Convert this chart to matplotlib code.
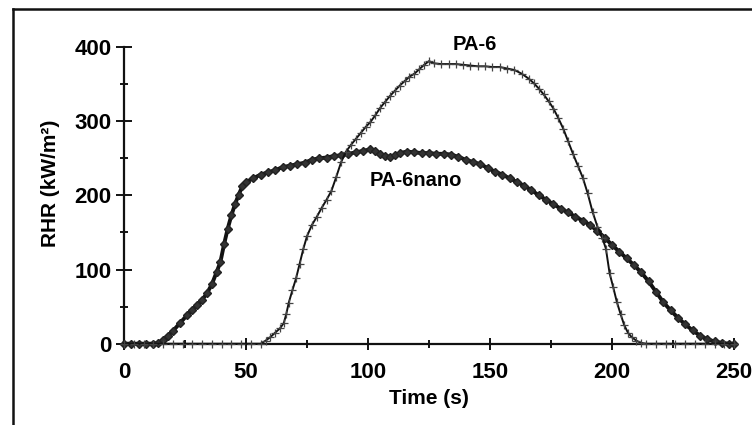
import matplotlib
matplotlib.use("Agg")
import matplotlib.pyplot as plt
from matplotlib.lines import Line2D
from matplotlib.ticker import MultipleLocator

plt.rcParams['font.family'] = ['Liberation Sans', 'DejaVu Sans']
plt.rcParams['font.weight'] = 'bold'
plt.rcParams['axes.labelweight'] = 'bold'

# PA-6 nanocomposite: time (s) and heat release rate (kW/m2)
nano_t = [0, 3, 6, 9, 12, 14, 16, 18, 20, 23, 26, 28, 30, 32, 34, 36, 38, 39.5,
          41, 42.5, 44, 45.5, 47, 48.5, 50, 53, 56, 59, 62, 65, 68, 71, 74, 77,
          80, 83, 86, 89, 92, 95, 98, 101, 103, 105, 107, 109, 111, 113, 116,
          119, 122, 125, 128, 131, 134, 137, 140, 143, 146, 149, 152, 155, 158,
          161, 164, 167, 170, 173, 176, 179, 182, 185, 188, 191, 194, 197, 200,
          203, 206, 209, 212, 215, 218, 221, 224, 227, 230, 233, 236, 239, 242,
          245, 248, 250]
nano_rhr = [0, 0, 0, 0, 0, 1, 5, 11, 17, 28, 39, 46, 52, 59, 68, 80, 97, 110,
            134, 155, 173, 188, 201, 212, 218, 223, 228, 231, 234, 238, 240, 242,
            244, 248, 250, 251, 253, 254, 256, 258, 260, 262, 260, 256, 253, 252,
            254, 257, 259, 258, 257, 257, 256, 256, 255, 252, 248, 245, 242, 237,
            232, 228, 223, 218, 213, 207, 200, 194, 188, 182, 177, 171, 166, 160,
            152, 143, 133, 124, 115, 106, 96, 84, 70, 56, 45, 35, 26, 18, 11, 6,
            3, 1, 0, 0]

# neat PA-6
pa6_t = [0, 4, 8, 12, 16, 20, 24, 28, 32, 36, 40, 44, 48, 52, 56, 58, 60, 62,
         64, 65.5, 66.5, 67.5, 69, 70.5, 72, 73.5, 75, 77, 79, 81, 83, 85, 87,
         89, 91, 93, 95, 97, 99, 101, 103, 105, 107, 109, 111, 113, 115, 117,
         119, 121, 123, 125, 127, 130, 133, 136, 139, 142, 145, 148, 151, 154,
         157, 160, 163, 166, 168, 170, 172, 174, 176, 178, 180, 182, 184, 186,
         188, 190, 192, 194, 196, 197.5, 199, 200.5, 202, 203.5, 205, 206.5,
         208, 210, 212, 214, 218, 222, 226, 230, 234, 238, 242, 246, 250]
pa6_rhr = [0, 0, 0, 0, 0, 0, 0, 0, 0, 0, 0, 0, 0, 0, 0, 4, 9, 15, 21, 28, 40,
           55, 72, 88, 108, 128, 145, 160, 171, 183, 194, 206, 225, 245, 259,
           268, 276, 284, 292, 299, 308, 318, 326, 334, 341, 348, 354, 360, 364,
           370, 376, 381, 378, 377, 377, 377, 376, 375, 374, 374, 373, 373, 371,
           369, 364, 357, 351, 344, 336, 327, 317, 304, 290, 273, 256, 240, 224,
           203, 178, 158, 143, 128, 95, 76, 56, 40, 25, 15, 9, 4, 1, 0, 0, 0, 0,
           0, 0, 0, 0, 0, 0]

fig = plt.figure(figsize=(7.52, 4.25), dpi=100)
ax = fig.add_axes([0.1649, 0.1913, 0.8112, 0.6981])

ax.plot(nano_t, nano_rhr, color='#111111', lw=2.8, marker='D', ms=4.5,
        mec='#222222', mfc='#333333', clip_on=False, zorder=3)
ax.plot(pa6_t, pa6_rhr, color='#111111', lw=1.4, marker='+', ms=6,
        mew=0.9, mec='#444444', clip_on=False, zorder=4)

ax.set_xlim(0, 250)
ax.set_ylim(0, 400)
ax.xaxis.set_major_locator(MultipleLocator(50))
ax.xaxis.set_minor_locator(MultipleLocator(25))
ax.yaxis.set_major_locator(MultipleLocator(100))
ax.yaxis.set_minor_locator(MultipleLocator(50))

for side in ['top', 'right']:
    ax.spines[side].set_visible(False)
for side in ['left', 'bottom']:
    ax.spines[side].set_linewidth(1.6)
    ax.spines[side].set_color('#111111')

ax.tick_params(axis='y', which='major', direction='inout', length=11.5,
               width=1.3, pad=3, labelsize=16)
ax.tick_params(axis='y', which='minor', direction='inout', length=6, width=1.3)
ax.tick_params(axis='x', which='major', direction='inout', length=8.5,
               width=1.3, pad=9, labelsize=16)
ax.tick_params(axis='x', which='minor', direction='inout', length=6, width=1.3)

ax.set_xlabel('Time (s)', fontsize=15, labelpad=4)
ax.set_ylabel('RHR (kW/m²)', fontsize=15)
ax.yaxis.set_label_coords(-0.105, 0.54)

ax.text(143.8, 404, 'PA-6', fontsize=14.5, ha='center', va='center', clip_on=False)
ax.text(119.6, 219.6, 'PA-6nano', fontsize=14.5, ha='center', va='center')

# frame of the scanned figure (left and top edges)
fig.add_artist(Line2D([0.0173, 0.0173], [0.0, 0.98], transform=fig.transFigure,
                      color='#111111', lw=1.8))
fig.add_artist(Line2D([0.0173, 1.0], [0.98, 0.98], transform=fig.transFigure,
                      color='#111111', lw=1.8))

fig.savefig('out.png', dpi=100)
